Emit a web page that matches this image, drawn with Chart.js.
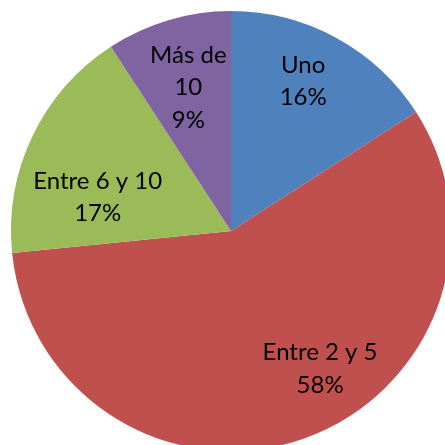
<!DOCTYPE html>
<html>
<head>
<meta charset="utf-8">
<script src="https://cdn.jsdelivr.net/npm/chart.js@4"></script>
<style>
  html, body { margin: 0; padding: 0; background: #fff; overflow: hidden; }
  #wrap { position: absolute; left: 0; top: 0; width: 452px; height: 452px; }
</style>
</head>
<body>
<div id="wrap"><canvas id="pie"></canvas></div>
<script>
// datos
const categorias = ['Uno', 'Entre 2 y 5', 'Entre 6 y 10', 'Más de 10'];
const valores = [15.9, 57.5, 17.4, 9.2];
const etiquetas = [['Uno', '16%'], ['Entre 2 y 5', '58%'], ['Entre 6 y 10', '17%'], ['Más de', '10', '9%']];
const colores = ['#4F81BD', '#C0504D', '#9BBB59', '#8064A2'];

// dónde va cada etiqueta dentro de su porción: fracción del ángulo y del radio
const posEtiqueta = [
    { t: 0.45, r: 0.755 },
    { t: 0.434, r: 0.745 },
    { t: 0.318, r: 0.625 },
    { t: 0.50, r: 0.68 }
];

const etiquetasPlugin = {
    id: 'etiquetas',
    afterDatasetsDraw(chart) {
        const ctx = chart.ctx;
        const arcs = chart.getDatasetMeta(0).data;
        ctx.save();
        ctx.fillStyle = '#000';
        ctx.font = '24px Lato';
        ctx.textAlign = 'center';
        ctx.textBaseline = 'middle';
        arcs.forEach((arc, i) => {
            const p = posEtiqueta[i];
            const a = arc.startAngle + p.t * (arc.endAngle - arc.startAngle);
            const r = arc.outerRadius * p.r;
            const x = arc.x + Math.cos(a) * r;
            const y = arc.y + Math.sin(a) * r;
            const lineas = etiquetas[i];
            const lh = 32.5;
            lineas.forEach((txt, j) => {
                ctx.fillText(txt, x, y + (j - (lineas.length - 1) / 2) * lh);
            });
        });
        ctx.restore();
    }
};

new Chart(document.getElementById('pie'), {
    type: 'pie',
    data: {
        labels: categorias,
        datasets: [{
            data: valores,
            backgroundColor: colores,
            borderWidth: 0
        }]
    },
    options: {
        responsive: true,
        maintainAspectRatio: false,
        animation: false,
        layout: { padding: { left: 11, top: 11, right: 1, bottom: 1 } },
        plugins: { legend: { display: false }, tooltip: { enabled: false } }
    },
    plugins: [etiquetasPlugin]
});
</script>
</body>
</html>
